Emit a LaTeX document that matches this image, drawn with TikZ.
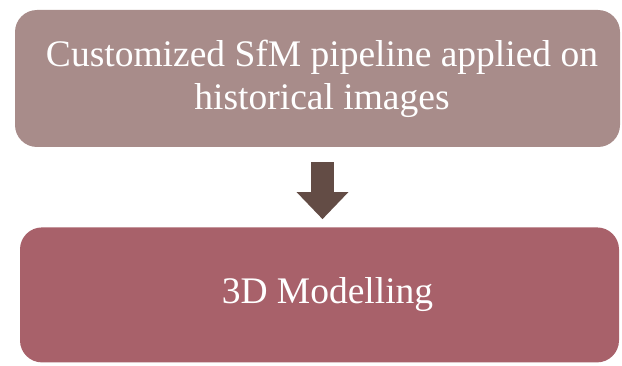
\documentclass[tikz,border=0pt]{standalone}
\usepackage{fontspec}
\setmainfont{Liberation Serif}
\usetikzlibrary{positioning,arrows.meta}
\definecolor{stepgray}{HTML}{A88C8A}
\definecolor{steprose}{HTML}{A8616A}
\definecolor{arrowbrown}{HTML}{634C45}

\tikzset{
  stagebox/.style={rounded corners=22pt, fill=#1, draw=none, text=white,
    align=center, inner sep=0pt, font=\fontsize{37.5}{43}\selectfont},
  flowarrow/.style={arrowbrown, line width=23pt,
    -{Triangle[length=27pt,width=50pt]}}
}

\begin{document}
\begin{tikzpicture}[x=1pt,y=1pt]
  % Canvas
  \useasboundingbox (0,0) rectangle (622,365);

  % Stages
  \node[stagebox=stepgray, minimum width=605pt, minimum height=137pt]
    (sfm) at (317.5,286.5)
    {\hspace*{9pt}Customized SfM pipeline applied on\\\hspace*{9pt}historical images};
  \node[stagebox=steprose, minimum width=599pt, minimum height=135pt,
    below=80pt of sfm, xshift=2pt] (model) {\hspace*{16pt}3D Modelling};

  % Flow
  \draw[flowarrow, shorten <=15pt, shorten >=8pt]
    ([xshift=5pt]sfm.south) -- ([xshift=3pt]model.north);
\end{tikzpicture}
\end{document}
